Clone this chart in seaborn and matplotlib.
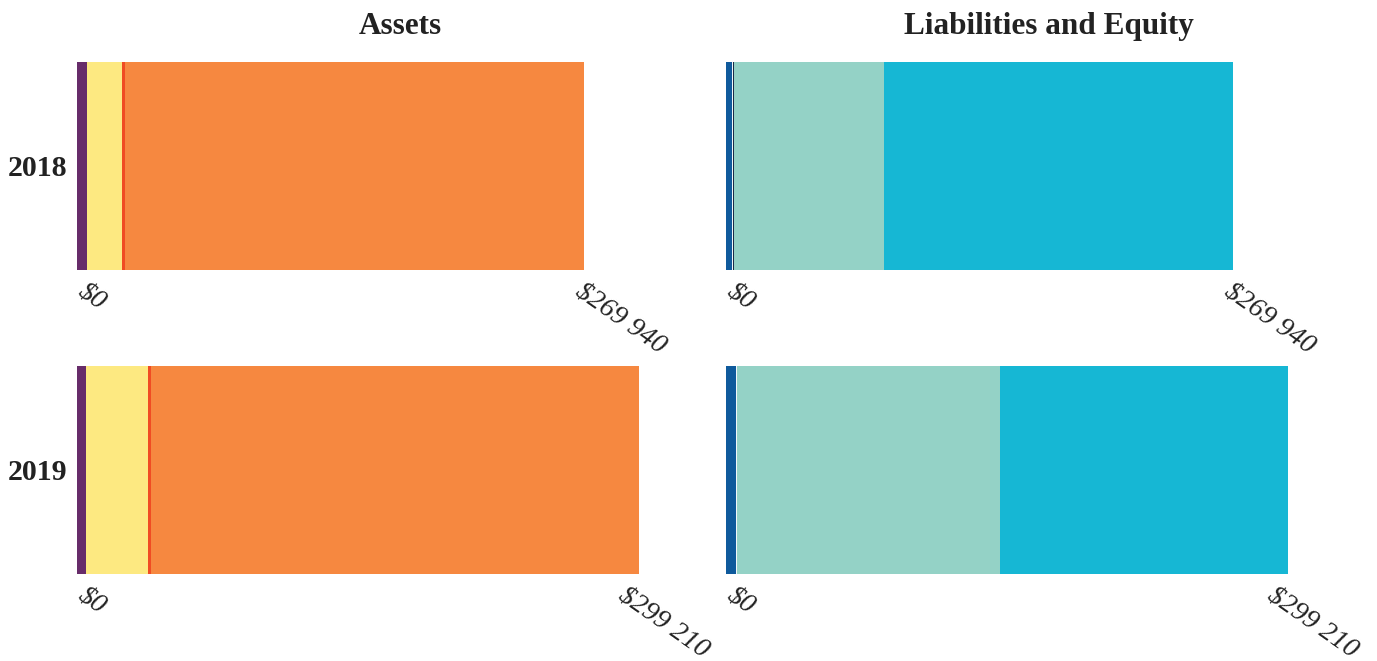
import numpy as np
import pandas as pd
import matplotlib
matplotlib.use("Agg")
import matplotlib.pyplot as plt
import seaborn as sns

# Values (USD)
years = ["2018", "2019"]
asset_parts = ["Cash", "Receivables", "Other current", "Long-term"]
asset_colors = ["#672c6a", "#fde981", "#f04c23", "#f68840"]
assets = {
    "2018": [5300, 18600, 1600, 244440],
    "2019": [4800, 33000, 1600, 259810],
}
liab_parts = ["Current liabilities", "Other", "Long-term debt", "Liabilities", "Equity"]
liab_colors = ["#0f5a9c", "#f2f8fa", "#1b2b48", "#94d2c6", "#16b7d4"]
liabilities = {
    "2018": [3200, 500, 500, 79700, 186040],
    "2019": [5300, 500, 0, 140000, 153410],
}
totals = {"2018": 269940, "2019": 299210}

sns.set_theme(style="white")
plt.rcParams["font.family"] = ["Liberation Serif", "DejaVu Serif"]

fig = plt.figure(figsize=(13.77, 6.61), dpi=100)
H = 661
W = 1377
xmax = max(totals.values()) * 1.15
# label nudges (points) for the $0 / total labels of each row
label_dx = {"2018": (8, 1), "2019": (8, -8)}


def fmt(v):
    return "$" + f"{v:,}".replace(",", " ")


def stacked(ax, year, vals, colors):
    cum = np.cumsum(vals)
    # draw from widest to narrowest so every segment stays visible
    for c, col in zip(cum[::-1], colors[::-1]):
        sns.barplot(x=[c], y=[year], orient="h", color=col, width=1,
                    saturation=1, linewidth=0, ax=ax)
    ax.set_xlim(0, xmax)
    ax.set_ylim(0.5, -0.5)
    ax.set_xlabel("")
    ax.set_ylabel("")
    sns.despine(ax=ax, left=True, bottom=True)
    ax.tick_params(length=0)
    ax.set_xticks([])
    for v, dx in zip([0, totals[year]], label_dx[year]):
        ax.annotate(fmt(v), xy=(v, 0), xycoords=ax.get_xaxis_transform(),
                    xytext=(dx, -6.5), textcoords="offset points",
                    rotation=-35, rotation_mode="anchor", ha="left", va="top",
                    fontsize=20, style="italic", color="#222222",
                    annotation_clip=False)


rows = [(62, 270), (366, 574)]
for i, year in enumerate(years):
    top, bot = rows[i]
    ax_a = fig.add_axes([77 / W, (H - bot) / H, 646 / W, (bot - top) / H])
    ax_l = fig.add_axes([726 / W, (H - bot) / H, 646 / W, (bot - top) / H])
    stacked(ax_a, year, assets[year], asset_colors)
    stacked(ax_l, year, liabilities[year], liab_colors)
    ax_a.set_yticks([0])
    ax_a.set_yticklabels([year], fontsize=21.5, fontweight="bold", color="#222222")
    ax_a.tick_params(axis="y", pad=7)
    ax_l.set_yticks([])
    if i == 0:
        ax_a.set_title("Assets", fontsize=22.5, fontweight="bold", pad=20, color="#222222")
        ax_l.set_title("Liabilities and Equity", fontsize=22.5, fontweight="bold",
                       pad=20, color="#222222")

fig.savefig("out.png", dpi=100)
